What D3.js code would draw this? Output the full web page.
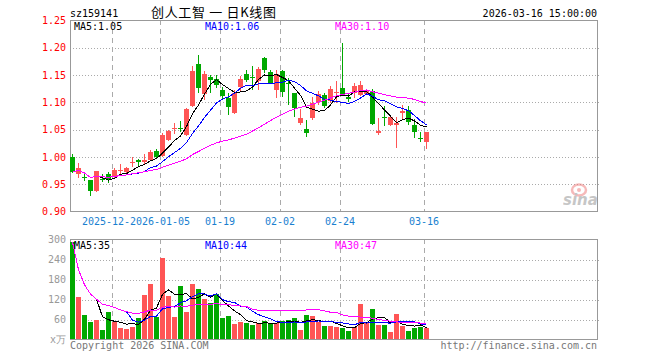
<!DOCTYPE html>
<html><head><meta charset="utf-8">
<script src="https://cdn.jsdelivr.net/npm/d3@7"></script>
<style>
body{margin:0;background:#fff;}
svg{display:block;}
svg text{font-family:"DejaVu Sans Mono",monospace;font-size:10px;}
svg text.title{font-family:"Noto Sans CJK SC",sans-serif;font-size:13px;}
svg text.wm{font-family:"DejaVu Sans",sans-serif;font-size:15px;font-style:italic;font-weight:bold;}
</style></head><body>
<svg id="c" width="660" height="360"></svg>
<script>
const dates = ["2025-12-11","2025-12-12","2025-12-15","2025-12-16","2025-12-17","2025-12-18","2025-12-19",
"2025-12-22","2025-12-23","2025-12-24","2025-12-25","2025-12-26","2025-12-29","2025-12-30","2025-12-31",
"2026-01-05","2026-01-06","2026-01-07","2026-01-08","2026-01-09","2026-01-12","2026-01-13","2026-01-14","2026-01-15","2026-01-16",
"2026-01-19","2026-01-20","2026-01-21","2026-01-22","2026-01-23","2026-01-26","2026-01-27","2026-01-28","2026-01-29","2026-01-30",
"2026-02-02","2026-02-03","2026-02-04","2026-02-05","2026-02-06","2026-02-09","2026-02-10","2026-02-11","2026-02-12","2026-02-13",
"2026-02-24","2026-02-25","2026-02-26","2026-02-27","2026-03-02","2026-03-03","2026-03-04","2026-03-05","2026-03-06",
"2026-03-09","2026-03-10","2026-03-11","2026-03-12","2026-03-13","2026-03-16"];
const opens  = [0.999,0.968,0.963,0.958,0.937,0.960,0.968,0.964,0.975,0.972,0.990,0.994,0.990,0.995,1.011,1.002,1.031,1.051,1.053,1.040,
1.094,1.171,1.115,1.146,1.143,1.123,1.108,1.080,1.128,1.152,1.147,1.139,1.182,1.156,1.123,1.157,1.136,1.117,1.062,1.052,
1.071,1.101,1.114,1.102,1.118,1.127,1.109,1.117,1.113,1.116,1.120,1.044,1.074,1.058,1.059,1.081,1.086,1.058,1.035,1.028];
const highs  = [1.005,0.988,0.971,0.958,0.975,0.968,0.973,0.980,0.987,0.982,0.999,0.997,1.006,1.012,1.015,1.043,1.049,1.063,1.066,1.090,
1.166,1.187,1.157,1.150,1.150,1.129,1.117,1.122,1.148,1.160,1.167,1.165,1.184,1.160,1.160,1.160,1.145,1.117,1.087,1.068,
1.109,1.120,1.118,1.130,1.140,1.208,1.115,1.135,1.139,1.125,1.124,1.071,1.093,1.076,1.074,1.096,1.094,1.069,1.045,1.046];
const lows   = [0.971,0.962,0.956,0.929,0.935,0.954,0.953,0.961,0.969,0.970,0.982,0.982,0.986,0.993,0.998,1.000,1.030,1.042,1.045,1.038,
1.091,1.117,1.104,1.117,1.126,1.105,1.077,1.078,1.120,1.138,1.123,1.123,1.154,1.133,1.108,1.110,1.096,1.074,1.059,1.036,
1.068,1.096,1.090,1.098,1.099,1.112,1.101,1.108,1.111,1.113,1.058,1.041,1.056,1.056,1.017,1.069,1.059,1.035,1.027,1.015];
const closes = [0.972,0.979,0.961,0.937,0.974,0.959,0.957,0.976,0.976,0.979,0.991,0.990,0.995,1.009,1.000,1.040,1.047,1.053,1.052,1.087,
1.157,1.127,1.152,1.141,1.132,1.111,1.091,1.118,1.143,1.141,1.146,1.162,1.159,1.136,1.152,1.119,1.133,1.090,1.071,1.044,
1.099,1.116,1.093,1.125,1.119,1.114,1.107,1.130,1.131,1.120,1.060,1.048,1.072,1.073,1.062,1.085,1.064,1.046,1.033,1.046];
const volumes = [292,127,74,52,59,29,82,52,35,32,39,65,134,167,67,245,131,69,160,83,
167,152,122,109,137,65,71,47,52,49,44,49,55,49,49,55,59,64,29,73,
70,52,40,40,39,34,25,37,106,49,91,43,43,22,77,42,26,35,38,34];
const priceTicks = [0.90,0.95,1.00,1.05,1.10,1.15,1.20,1.25];
const volTicks = [0,60,120,180,240,300];
const xTickDates = ["2025-12-22","2026-01-05","2026-01-19","2026-02-02","2026-02-24","2026-03-16"];
const xTickLabels = ["2025-12-22","2026-01-05","01-19","02-02","02-24","03-16"];
const priceMaLabels = ["MA5:1.05","MA10:1.06","MA30:1.10"];
const volMaLabels = ["MA5:35","MA10:44","MA30:47"];
const maColors = ["#000000","#0000ff","#ff00ff"];
const symbol = "sz159141";
const title = "创人工智 一 日K线图";
const stamp = "2026-03-16 15:00:00";

const UP = "#ff5555", DOWN = "#00a800";
const L = 70, R = 597, SLOTS = 88;
const svg = d3.select("#c");

const x = d3.scaleLinear().domain([0, SLOTS]).range([L, L + SLOTS * 6]);
const yP = d3.scaleLinear().domain([0.90, 1.25]).range([211.5, 20.5]);
const yV = d3.scaleLinear().domain([0, 300]).range([339.5, 239.5]);
const BW = 5;
const cx = i => x(i) + 2.5;

function drawFrame(y, ticks, top, bottom, gridTicks) {
  const g = svg.append("g");
  gridTicks.forEach(t => {
    const yy = Math.round(y(t)) + 0.5;
    g.append("line").attr("x1", L).attr("x2", R + 2).attr("y1", yy).attr("y2", yy)
      .attr("stroke", "#aaa").attr("stroke-dasharray", "1,2");
  });
  xTickDates.forEach(d => {
    const i = dates.indexOf(d);
    const xx = Math.round(x(i)) + 0.5;
    g.append("line").attr("x1", xx).attr("x2", xx).attr("y1", top).attr("y2", bottom)
      .attr("stroke", "#aaa").attr("stroke-dasharray", "5,4");
  });
  g.append("rect").attr("x", L + 0.5).attr("y", top + 0.5).attr("width", R - L).attr("height", bottom - top)
    .attr("fill", "none").attr("stroke", "#999");
}

drawFrame(yP, priceTicks, 20, 211, priceTicks.slice(1, -1));
drawFrame(yV, volTicks, 239, 339, volTicks.slice(1, -1));

// watermark
const wm = svg.append("g").attr("opacity", 0.55);
wm.append("ellipse").attr("cx", 579).attr("cy", 190).attr("rx", 7).attr("ry", 5.5)
  .attr("fill", "none").attr("stroke", "#f08080").attr("stroke-width", 2.5);
wm.append("circle").attr("cx", 579).attr("cy", 190).attr("r", 2).attr("fill", "#f08080");
wm.append("text").attr("class", "wm").attr("x", 563).attr("y", 205).attr("fill", "#999").text("sina");

const pa = svg.append("g").attr("transform", `translate(${L - 4},0)`)
  .call(d3.axisLeft(yP).tickValues(priceTicks).tickFormat(d3.format(".2f")).tickSize(0).tickPadding(0));
pa.select(".domain").remove();
pa.selectAll("text").attr("fill", "#ff0000");

const va = svg.append("g").attr("transform", `translate(${L - 4},0)`)
  .call(d3.axisLeft(yV).tickValues(volTicks).tickFormat(d => d === 0 ? "x万" : d).tickSize(0).tickPadding(0));
va.select(".domain").remove();
va.selectAll("text").attr("fill", "#999");

const xl = svg.append("g");
xTickDates.forEach((d, k) => {
  const i = dates.indexOf(d);
  const t = xl.append("text").attr("x", x(i)).attr("y", 225).attr("text-anchor", "middle")
    .attr("fill", "#1a7fd0").text(xTickLabels[k]);
  const b = t.node().getBBox();
  xl.insert("rect", () => t.node()).attr("x", b.x).attr("y", b.y).attr("width", b.width).attr("height", b.height).attr("fill", "#fff");
});

const cg = svg.append("g").attr("shape-rendering", "crispEdges");
dates.forEach((d, i) => {
  const o = opens[i], c = closes[i], h = highs[i], l = lows[i];
  const col = c >= o ? UP : DOWN;
  cg.append("line").attr("x1", x(i) + 2.5).attr("x2", x(i) + 2.5)
    .attr("y1", Math.round(yP(h))).attr("y2", Math.round(yP(l))).attr("stroke", col);
  const yt = Math.round(yP(Math.max(o, c))), yb = Math.round(yP(Math.min(o, c)));
  if (yb - yt < 1) {
    cg.append("line").attr("x1", x(i)).attr("x2", x(i) + BW).attr("y1", yt + 0.5).attr("y2", yt + 0.5).attr("stroke", col);
  } else {
    cg.append("rect").attr("x", x(i)).attr("y", yt).attr("width", BW).attr("height", yb - yt).attr("fill", col);
  }
});

const vg = svg.append("g").attr("shape-rendering", "crispEdges");
volumes.forEach((v, i) => {
  const col = closes[i] >= opens[i] ? UP : DOWN;
  const yt = Math.round(yV(v));
  vg.append("rect").attr("x", x(i)).attr("y", yt).attr("width", BW).attr("height", 339 - yt).attr("fill", col);
});

function movingAvg(arr, n, expanding) {
  const out = [];
  arr.forEach((v, i) => {
    if (i >= n - 1) out.push([i, d3.mean(arr.slice(i - n + 1, i + 1))]);
    else if (expanding) out.push([i, d3.mean(arr.slice(0, i + 1))]);
  });
  return out;
}
function drawMAs(arr, y) {
  [[5, false], [10, false], [30, true]].forEach(([n, exp], k) => {
    const pts = movingAvg(arr, n, exp);
    svg.append("path").attr("d", d3.line().x(p => cx(p[0])).y(p => y(p[1]))(pts))
      .attr("fill", "none").attr("stroke", maColors[k]).attr("stroke-width", 1)
      .attr("shape-rendering", "crispEdges");
  });
}
drawMAs(closes, yP);
drawMAs(volumes, yV);

const labX = [74, 205, 335];
priceMaLabels.forEach((t, k) => svg.append("text").attr("x", labX[k]).attr("y", 30).attr("fill", maColors[k]).text(t));
volMaLabels.forEach((t, k) => svg.append("text").attr("x", labX[k]).attr("y", 249).attr("fill", maColors[k]).text(t));

svg.append("text").attr("x", 70).attr("y", 17).attr("fill", "#000").text(symbol);
svg.append("text").attr("class", "title").attr("x", 151).attr("y", 17).attr("fill", "#000")
  .attr("textLength", 125).attr("lengthAdjust", "spacing").text(title);
svg.append("text").attr("x", 597).attr("y", 17).attr("text-anchor", "end").attr("fill", "#000").text(stamp);
svg.append("text").attr("x", 70).attr("y", 349).attr("fill", "#777").text("Copyright 2026 SINA.COM");
svg.append("text").attr("x", 597).attr("y", 349).attr("text-anchor", "end").attr("fill", "#777").text("http://finance.sina.com.cn");
</script>
</body></html>
